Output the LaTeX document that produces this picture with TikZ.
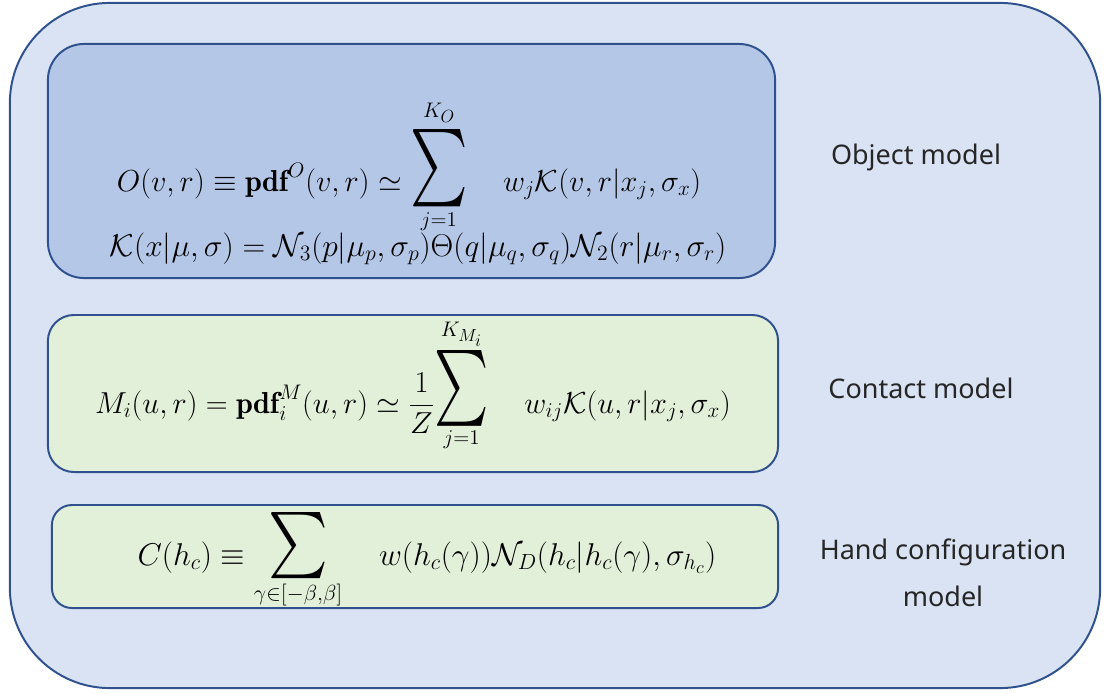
\documentclass[tikz,border=0pt]{standalone}
\usepackage{amsmath}
\usepackage{fontspec}
\usepackage{graphicx}
\newfontfamily\labelfont{Noto Sans}
\definecolor{outerfill}{HTML}{DAE3F3}
\definecolor{objfill}{HTML}{B4C7E7}
\definecolor{greenfill}{HTML}{E2F0D9}
\definecolor{edgeblue}{HTML}{2F528F}
% large n-ary sum: x scale, y scale, raise
\newcommand{\nsum}[3]{\mathop{\raisebox{#3}{\scalebox{#1}[#2]{$\textstyle\sum$}}}\limits}
\newcommand{\updepth}{\rule[-0.3em]{0pt}{0pt}}
\begin{document}
\begin{tikzpicture}[x=0.025cm,y=-0.025cm,
  panel/.style={draw=edgeblue,line width=1.4pt,rectangle},
  eq/.style={font=\fontsize{20.74}{24}\selectfont,anchor=base,inner sep=0pt},
  lbl/.style={font=\labelfont\fontsize{19.2}{33}\selectfont,text=black!85,align=center}]
\useasboundingbox (0,0) rectangle (1107,693);
\node[panel,fill=outerfill,rounded corners=2.5cm,minimum width=27.25cm,minimum height=17.125cm] (outer) at (555,345.5) {};
% panels
\node[panel,fill=objfill,rounded corners=0.9cm,minimum width=18.175cm,minimum height=5.85cm] (objbox) at (411.5,161) {};
\node[panel,fill=greenfill,rounded corners=0.65cm,minimum width=18.25cm,minimum height=3.925cm] (contbox) at (413,393.5) {};
\node[panel,fill=greenfill,rounded corners=0.5cm,minimum width=18.15cm,minimum height=2.575cm] (handbox) at (415,556.5) {};
% formulas
\node[eq] (objeq) at (409,191) {\scalebox{1.04}{$O(v,r)\equiv\mathbf{pdf}^O(v,r)\simeq\nsum{1.8}{2.55}{0.1em}_{j=1}^{K_O\updepth}\quad w_j\mathcal{K}(v,r|x_j,\sigma_x)$}};
\node[eq] (kerneq) at (418,256) {\scalebox{1.08}{$\mathcal{K}(x|\mu,\sigma)=\mathcal{N}_3(p|\mu_p,\sigma_p)\Theta(q|\mu_q,\sigma_q)\mathcal{N}_2(r|\mu_r,\sigma_r)$}};
\node[eq] (conteq) at (413,413) {\scalebox{1.04}{$M_i(u,r)=\mathbf{pdf}_i^M(u,r)\simeq\dfrac{1}{Z}\!\nsum{1.7}{2.5}{0.2em}_{j=1}^{K_{M_i}}\quad w_{ij}\mathcal{K}(u,r|x_j,\sigma_x)$}};
\node[eq] (handeq) at (427,565) {\scalebox{1.08}{$C(h_c)\equiv\nsum{1.8}{2.1}{0.1em}_{\gamma\in[-\beta,\beta]}\quad w(h_c(\gamma))\mathcal{N}_D(h_c|h_c(\gamma),\sigma_{h_c})$}};
% labels
\node[lbl] (objlbl) at (916,157) {Object model};
\node[lbl] (contlbl) at (921,388) {Contact model};
\node[lbl] (handlbl) at (943,573) {Hand configuration\\model};
\end{tikzpicture}
\end{document}
